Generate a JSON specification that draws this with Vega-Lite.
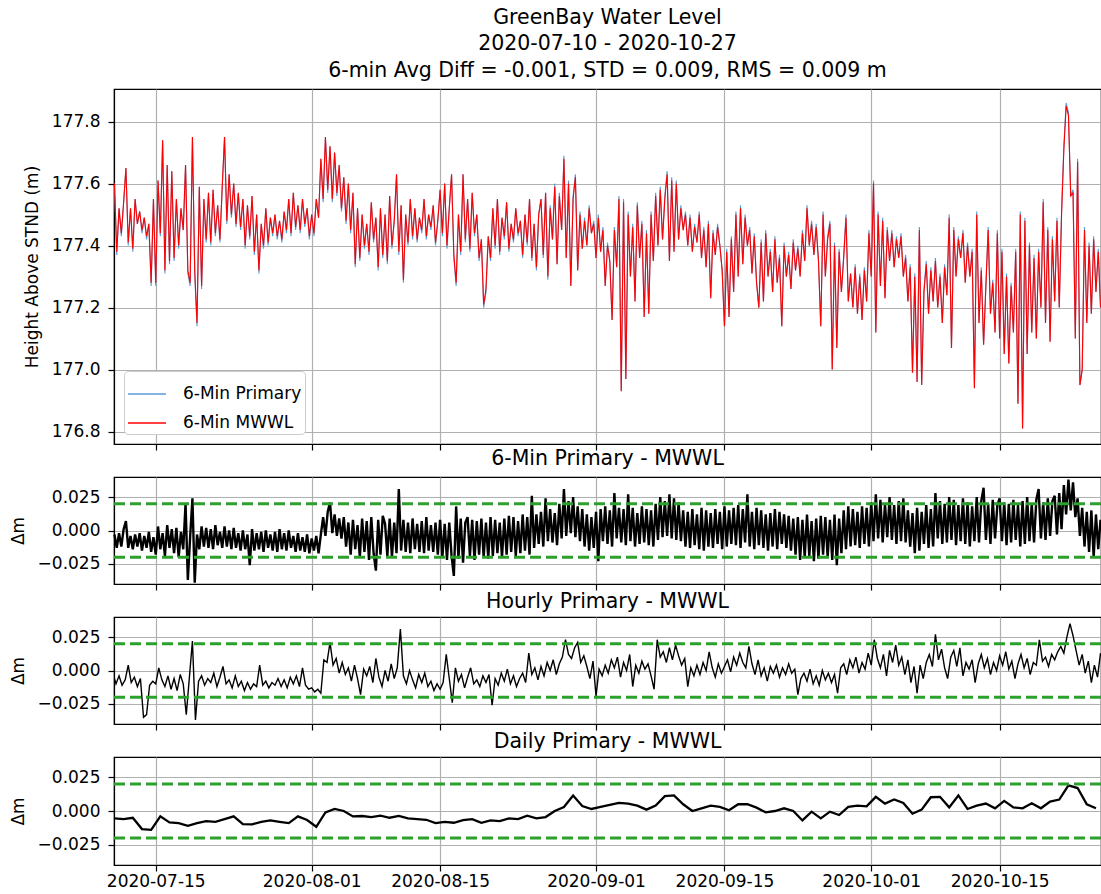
{
"$schema": "https://vega.github.io/schema/vega-lite/v6.json",
"background": "white",
"padding": {"left": 8, "top": 6, "right": 1, "bottom": 0},
"bounds": "flush",
"spacing": 33,
"resolve": {"scale": {"color": "independent"}, "legend": {"color": "independent"}},
"config": {
  "font": "DejaVu Sans",
  "view": {"stroke": "black", "strokeWidth": 1.2},
  "axis": {"labelFont": "DejaVu Sans", "titleFont": "DejaVu Sans", "labelFontSize": 17, "titleFontSize": 17, "titleFontWeight": "normal", "labelColor": "black", "titleColor": "black", "tickColor": "black", "tickSize": 6, "tickWidth": 1.2, "domainColor": "black", "domainWidth": 1.2, "labelPadding": 8, "titlePadding": 10, "gridColor": "#b0b0b0", "gridWidth": 1.2},
  "axisX": {"labelPadding": 2},
  "title": {"font": "DejaVu Sans", "fontSize": 20.5, "fontWeight": "normal", "color": "black"},
  "legend": {"labelFont": "DejaVu Sans"}
},
"datasets": {
"wl": [
{"t":0.5,"p":177.6,"m":177.6},{"t":0.75,"p":177.37,"m":177.38},
{"t":1,"p":177.52,"m":177.52},{"t":1.25,"p":177.43,"m":177.44},{"t":1.5,"p":177.54,"m":177.54},{"t":1.75,"p":177.65,"m":177.65},
{"t":2,"p":177.4,"m":177.41},{"t":2.25,"p":177.52,"m":177.52},{"t":2.5,"p":177.38,"m":177.39},{"t":2.75,"p":177.55,"m":177.55},
{"t":3,"p":177.47,"m":177.47},{"t":3.25,"p":177.51,"m":177.51},{"t":3.5,"p":177.44,"m":177.45},{"t":3.75,"p":177.49,"m":177.49},
{"t":4,"p":177.42,"m":177.43},{"t":4.25,"p":177.47,"m":177.47},{"t":4.5,"p":177.27,"m":177.28},{"t":4.75,"p":177.55,"m":177.55},
{"t":5,"p":177.27,"m":177.28},{"t":5.25,"p":177.61,"m":177.61},{"t":5.5,"p":177.43,"m":177.44},{"t":5.75,"p":177.74,"m":177.74},
{"t":6,"p":177.31,"m":177.32},{"t":6.25,"p":177.66,"m":177.66},{"t":6.5,"p":177.34,"m":177.35},{"t":6.75,"p":177.64,"m":177.64},
{"t":7,"p":177.35,"m":177.36},{"t":7.25,"p":177.55,"m":177.55},{"t":7.5,"p":177.39,"m":177.4},{"t":7.75,"p":177.52,"m":177.52},
{"t":8,"p":177.45,"m":177.45},{"t":8.25,"p":177.66,"m":177.66},{"t":8.5,"p":177.31,"m":177.32},{"t":8.75,"p":177.27,"m":177.28},
{"t":9,"p":177.75,"m":177.75},{"t":9.25,"p":177.31,"m":177.32},{"t":9.5,"p":177.14,"m":177.15},{"t":9.75,"p":177.59,"m":177.59},
{"t":10,"p":177.26,"m":177.27},{"t":10.25,"p":177.55,"m":177.55},{"t":10.5,"p":177.41,"m":177.42},{"t":10.75,"p":177.57,"m":177.57},
{"t":11,"p":177.4,"m":177.41},{"t":11.25,"p":177.58,"m":177.58},{"t":11.5,"p":177.43,"m":177.44},{"t":11.75,"p":177.53,"m":177.53},
{"t":12,"p":177.41,"m":177.42},{"t":12.25,"p":177.59,"m":177.59},{"t":12.5,"p":177.75,"m":177.75},{"t":12.75,"p":177.47,"m":177.48},
{"t":13,"p":177.63,"m":177.63},{"t":13.25,"p":177.49,"m":177.5},{"t":13.5,"p":177.6,"m":177.6},{"t":13.75,"p":177.46,"m":177.47},
{"t":14,"p":177.57,"m":177.57},{"t":14.25,"p":177.45,"m":177.46},{"t":14.5,"p":177.55,"m":177.55},{"t":14.75,"p":177.39,"m":177.4},
{"t":15,"p":177.53,"m":177.53},{"t":15.25,"p":177.42,"m":177.43},{"t":15.5,"p":177.56,"m":177.56},{"t":15.75,"p":177.37,"m":177.38},
{"t":16,"p":177.5,"m":177.5},{"t":16.25,"p":177.31,"m":177.32},{"t":16.5,"p":177.47,"m":177.47},{"t":16.75,"p":177.39,"m":177.4},
{"t":17,"p":177.52,"m":177.52},{"t":17.25,"p":177.4,"m":177.41},{"t":17.5,"p":177.49,"m":177.49},{"t":17.75,"p":177.43,"m":177.44},
{"t":18,"p":177.5,"m":177.5},{"t":18.25,"p":177.42,"m":177.43},{"t":18.5,"p":177.48,"m":177.48},{"t":18.75,"p":177.41,"m":177.42},
{"t":19,"p":177.51,"m":177.51},{"t":19.25,"p":177.44,"m":177.45},{"t":19.5,"p":177.55,"m":177.55},{"t":19.75,"p":177.43,"m":177.44},
{"t":20,"p":177.57,"m":177.57},{"t":20.25,"p":177.45,"m":177.46},{"t":20.5,"p":177.53,"m":177.53},{"t":20.75,"p":177.44,"m":177.45},
{"t":21,"p":177.55,"m":177.55},{"t":21.25,"p":177.46,"m":177.47},{"t":21.5,"p":177.52,"m":177.52},{"t":21.75,"p":177.42,"m":177.43},
{"t":22,"p":177.5,"m":177.5},{"t":22.25,"p":177.43,"m":177.44},{"t":22.5,"p":177.55,"m":177.55},{"t":22.75,"p":177.49,"m":177.49},
{"t":23,"p":177.68,"m":177.68},{"t":23.25,"p":177.54,"m":177.55},{"t":23.5,"p":177.75,"m":177.75},{"t":23.75,"p":177.57,"m":177.58},
{"t":24,"p":177.72,"m":177.72},{"t":24.25,"p":177.54,"m":177.55},{"t":24.5,"p":177.7,"m":177.7},{"t":24.75,"p":177.56,"m":177.57},
{"t":25,"p":177.66,"m":177.66},{"t":25.25,"p":177.51,"m":177.52},{"t":25.5,"p":177.62,"m":177.62},{"t":25.75,"p":177.47,"m":177.48},
{"t":26,"p":177.6,"m":177.6},{"t":26.25,"p":177.44,"m":177.45},{"t":26.5,"p":177.57,"m":177.57},{"t":26.75,"p":177.33,"m":177.34},
{"t":27,"p":177.52,"m":177.52},{"t":27.25,"p":177.35,"m":177.36},{"t":27.5,"p":177.5,"m":177.5},{"t":27.75,"p":177.39,"m":177.4},
{"t":28,"p":177.47,"m":177.47},{"t":28.25,"p":177.37,"m":177.38},{"t":28.5,"p":177.54,"m":177.54},{"t":28.75,"p":177.41,"m":177.42},
{"t":29,"p":177.49,"m":177.49},{"t":29.25,"p":177.32,"m":177.33},{"t":29.5,"p":177.52,"m":177.52},{"t":29.75,"p":177.36,"m":177.37},
{"t":30,"p":177.5,"m":177.5},{"t":30.25,"p":177.34,"m":177.35},{"t":30.5,"p":177.56,"m":177.56},{"t":30.75,"p":177.39,"m":177.4},
{"t":31,"p":177.48,"m":177.48},{"t":31.25,"p":177.63,"m":177.63},{"t":31.5,"p":177.37,"m":177.38},{"t":31.75,"p":177.53,"m":177.53},
{"t":32,"p":177.28,"m":177.29},{"t":32.25,"p":177.5,"m":177.5},{"t":32.5,"p":177.4,"m":177.41},{"t":32.75,"p":177.55,"m":177.55},
{"t":33,"p":177.42,"m":177.43},{"t":33.25,"p":177.52,"m":177.52},{"t":33.5,"p":177.41,"m":177.42},{"t":33.75,"p":177.49,"m":177.49},
{"t":34,"p":177.44,"m":177.45},{"t":34.25,"p":177.55,"m":177.55},{"t":34.5,"p":177.42,"m":177.43},{"t":34.75,"p":177.5,"m":177.5},
{"t":35,"p":177.45,"m":177.46},{"t":35.25,"p":177.53,"m":177.53},{"t":35.5,"p":177.4,"m":177.41},{"t":35.75,"p":177.48,"m":177.48},
{"t":36,"p":177.58,"m":177.58},{"t":36.25,"p":177.43,"m":177.44},{"t":36.5,"p":177.6,"m":177.6},{"t":36.75,"p":177.39,"m":177.4},
{"t":37,"p":177.52,"m":177.52},{"t":37.25,"p":177.63,"m":177.63},{"t":37.5,"p":177.36,"m":177.37},{"t":37.75,"p":177.27,"m":177.28},
{"t":38,"p":177.5,"m":177.5},{"t":38.25,"p":177.37,"m":177.38},{"t":38.5,"p":177.63,"m":177.63},{"t":38.75,"p":177.41,"m":177.42},
{"t":39,"p":177.55,"m":177.55},{"t":39.25,"p":177.38,"m":177.39},{"t":39.5,"p":177.57,"m":177.57},{"t":39.75,"p":177.43,"m":177.44},
{"t":40,"p":177.5,"m":177.5},{"t":40.25,"p":177.35,"m":177.36},{"t":40.5,"p":177.42,"m":177.42},{"t":40.75,"p":177.2,"m":177.21},
{"t":41,"p":177.25,"m":177.26},{"t":41.25,"p":177.43,"m":177.43},{"t":41.5,"p":177.35,"m":177.36},{"t":41.75,"p":177.52,"m":177.52},
{"t":42,"p":177.39,"m":177.4},{"t":42.25,"p":177.55,"m":177.55},{"t":42.5,"p":177.37,"m":177.38},{"t":42.75,"p":177.49,"m":177.49},
{"t":43,"p":177.42,"m":177.43},{"t":43.25,"p":177.54,"m":177.54},{"t":43.5,"p":177.38,"m":177.39},{"t":43.75,"p":177.47,"m":177.47},
{"t":44,"p":177.41,"m":177.42},{"t":44.25,"p":177.52,"m":177.52},{"t":44.5,"p":177.43,"m":177.44},{"t":44.75,"p":177.48,"m":177.48},
{"t":45,"p":177.36,"m":177.37},{"t":45.25,"p":177.5,"m":177.5},{"t":45.5,"p":177.4,"m":177.41},{"t":45.75,"p":177.55,"m":177.55},
{"t":46,"p":177.35,"m":177.36},{"t":46.25,"p":177.47,"m":177.47},{"t":46.5,"p":177.32,"m":177.33},{"t":46.75,"p":177.5,"m":177.5},
{"t":47,"p":177.55,"m":177.55},{"t":47.25,"p":177.36,"m":177.37},{"t":47.5,"p":177.57,"m":177.57},{"t":47.75,"p":177.29,"m":177.3},
{"t":48,"p":177.53,"m":177.52},{"t":48.25,"p":177.42,"m":177.42},{"t":48.5,"p":177.6,"m":177.59},{"t":48.75,"p":177.34,"m":177.34},
{"t":49,"p":177.57,"m":177.56},{"t":49.25,"p":177.45,"m":177.45},{"t":49.5,"p":177.69,"m":177.68},{"t":49.75,"p":177.36,"m":177.36},
{"t":50,"p":177.61,"m":177.6},{"t":50.25,"p":177.27,"m":177.27},{"t":50.5,"p":177.56,"m":177.55},{"t":50.75,"p":177.63,"m":177.62},
{"t":51,"p":177.32,"m":177.32},{"t":51.25,"p":177.51,"m":177.5},{"t":51.5,"p":177.39,"m":177.39},{"t":51.75,"p":177.49,"m":177.48},
{"t":52,"p":177.4,"m":177.4},{"t":52.25,"p":177.53,"m":177.52},{"t":52.5,"p":177.44,"m":177.44},{"t":52.75,"p":177.48,"m":177.47},
{"t":53,"p":177.36,"m":177.36},{"t":53.25,"p":177.5,"m":177.49},{"t":53.5,"p":177.38,"m":177.38},{"t":53.75,"p":177.46,"m":177.45},
{"t":54,"p":177.27,"m":177.27},{"t":54.25,"p":177.41,"m":177.4},{"t":54.5,"p":177.35,"m":177.35},{"t":54.75,"p":177.16,"m":177.16},
{"t":55,"p":177.46,"m":177.45},{"t":55.25,"p":177.33,"m":177.33},{"t":55.5,"p":177.56,"m":177.55},{"t":55.75,"p":176.93,"m":176.93},
{"t":56,"p":177.55,"m":177.54},{"t":56.25,"p":176.97,"m":176.97},{"t":56.5,"p":177.51,"m":177.5},{"t":56.75,"p":177.3,"m":177.3},
{"t":57,"p":177.47,"m":177.46},{"t":57.25,"p":177.22,"m":177.22},{"t":57.5,"p":177.54,"m":177.53},{"t":57.75,"p":177.36,"m":177.36},
{"t":58,"p":177.48,"m":177.47},{"t":58.25,"p":177.17,"m":177.17},{"t":58.5,"p":177.45,"m":177.44},{"t":58.75,"p":177.18,"m":177.18},
{"t":59,"p":177.51,"m":177.5},{"t":59.25,"p":177.35,"m":177.35},{"t":59.5,"p":177.57,"m":177.56},{"t":59.75,"p":177.4,"m":177.4},
{"t":60,"p":177.59,"m":177.58},{"t":60.25,"p":177.42,"m":177.42},{"t":60.5,"p":177.56,"m":177.55},{"t":60.75,"p":177.64,"m":177.63},
{"t":61,"p":177.35,"m":177.35},{"t":61.25,"p":177.62,"m":177.61},{"t":61.5,"p":177.38,"m":177.38},{"t":61.75,"p":177.61,"m":177.6},
{"t":62,"p":177.42,"m":177.42},{"t":62.25,"p":177.53,"m":177.52},{"t":62.5,"p":177.45,"m":177.45},{"t":62.75,"p":177.51,"m":177.5},
{"t":63,"p":177.4,"m":177.4},{"t":63.25,"p":177.5,"m":177.49},{"t":63.5,"p":177.38,"m":177.38},{"t":63.75,"p":177.47,"m":177.46},
{"t":64,"p":177.41,"m":177.41},{"t":64.25,"p":177.51,"m":177.5},{"t":64.5,"p":177.36,"m":177.36},{"t":64.75,"p":177.46,"m":177.45},
{"t":65,"p":177.33,"m":177.33},{"t":65.25,"p":177.48,"m":177.47},{"t":65.5,"p":177.23,"m":177.23},{"t":65.75,"p":177.45,"m":177.44},
{"t":66,"p":177.37,"m":177.37},{"t":66.25,"p":177.47,"m":177.46},{"t":66.5,"p":177.4,"m":177.4},{"t":66.75,"p":177.32,"m":177.32},
{"t":67,"p":177.14,"m":177.14},{"t":67.25,"p":177.39,"m":177.38},{"t":67.5,"p":177.17,"m":177.17},{"t":67.75,"p":177.43,"m":177.42},
{"t":68,"p":177.25,"m":177.25},{"t":68.25,"p":177.51,"m":177.5},{"t":68.5,"p":177.3,"m":177.3},{"t":68.75,"p":177.53,"m":177.52},
{"t":69,"p":177.34,"m":177.34},{"t":69.25,"p":177.5,"m":177.49},{"t":69.5,"p":177.4,"m":177.4},{"t":69.75,"p":177.46,"m":177.45},
{"t":70,"p":177.31,"m":177.31},{"t":70.25,"p":177.44,"m":177.43},{"t":70.5,"p":177.28,"m":177.28},{"t":70.75,"p":177.2,"m":177.2},
{"t":71,"p":177.42,"m":177.41},{"t":71.25,"p":177.22,"m":177.22},{"t":71.5,"p":177.45,"m":177.44},{"t":71.75,"p":177.3,"m":177.3},
{"t":72,"p":177.39,"m":177.38},{"t":72.25,"p":177.25,"m":177.25},{"t":72.5,"p":177.43,"m":177.42},{"t":72.75,"p":177.28,"m":177.28},
{"t":73,"p":177.37,"m":177.36},{"t":73.25,"p":177.14,"m":177.14},{"t":73.5,"p":177.41,"m":177.4},{"t":73.75,"p":177.3,"m":177.3},
{"t":74,"p":177.38,"m":177.37},{"t":74.25,"p":177.26,"m":177.26},{"t":74.5,"p":177.42,"m":177.41},{"t":74.75,"p":177.32,"m":177.32},
{"t":75,"p":177.4,"m":177.39},{"t":75.25,"p":177.3,"m":177.3},{"t":75.5,"p":177.45,"m":177.44},{"t":75.75,"p":177.35,"m":177.35},
{"t":76,"p":177.53,"m":177.52},{"t":76.25,"p":177.4,"m":177.4},{"t":76.5,"p":177.48,"m":177.47},{"t":76.75,"p":177.37,"m":177.37},
{"t":77,"p":177.47,"m":177.46},{"t":77.25,"p":177.35,"m":177.35},{"t":77.5,"p":177.14,"m":177.14},{"t":77.75,"p":177.51,"m":177.5},
{"t":78,"p":177.3,"m":177.3},{"t":78.25,"p":177.43,"m":177.42},{"t":78.5,"p":177.48,"m":177.47},{"t":78.75,"p":177,"m":177},
{"t":79,"p":177.41,"m":177.4},{"t":79.25,"p":177.07,"m":177.07},{"t":79.5,"p":177.39,"m":177.38},{"t":79.75,"p":177.25,"m":177.25},
{"t":80,"p":177.37,"m":177.36},{"t":80.25,"p":177.5,"m":177.49},{"t":80.5,"p":177.22,"m":177.22},{"t":80.75,"p":177.31,"m":177.31},
{"t":81,"p":177.2,"m":177.2},{"t":81.25,"p":177.34,"m":177.33},{"t":81.5,"p":177.18,"m":177.18},{"t":81.75,"p":177.31,"m":177.3},
{"t":82,"p":177.16,"m":177.16},{"t":82.25,"p":177.33,"m":177.32},{"t":82.5,"p":177.22,"m":177.22},{"t":82.75,"p":177.45,"m":177.44},
{"t":83,"p":177.3,"m":177.3},{"t":83.25,"p":177.61,"m":177.6},{"t":83.5,"p":177.12,"m":177.12},{"t":83.75,"p":177.51,"m":177.5},
{"t":84,"p":177.27,"m":177.27},{"t":84.25,"p":177.49,"m":177.48},{"t":84.5,"p":177.23,"m":177.23},{"t":84.75,"p":177.46,"m":177.45},
{"t":85,"p":177.35,"m":177.35},{"t":85.25,"p":177.45,"m":177.44},{"t":85.5,"p":177.33,"m":177.33},{"t":85.75,"p":177.43,"m":177.42},
{"t":86,"p":177.36,"m":177.36},{"t":86.25,"p":177.44,"m":177.43},{"t":86.5,"p":177.3,"m":177.3},{"t":86.75,"p":177.37,"m":177.36},
{"t":87,"p":177.22,"m":177.22},{"t":87.25,"p":177.34,"m":177.33},{"t":87.5,"p":176.99,"m":176.99},{"t":87.75,"p":177.31,"m":177.3},
{"t":88,"p":176.96,"m":176.96},{"t":88.25,"p":177.46,"m":177.45},{"t":88.5,"p":176.95,"m":176.95},{"t":88.75,"p":177.26,"m":177.25},
{"t":89,"p":177.35,"m":177.34},{"t":89.25,"p":177.18,"m":177.18},{"t":89.5,"p":177.33,"m":177.32},{"t":89.75,"p":177.22,"m":177.22},
{"t":90,"p":177.36,"m":177.35},{"t":90.25,"p":177.2,"m":177.2},{"t":90.5,"p":177.31,"m":177.3},{"t":90.75,"p":177.15,"m":177.15},
{"t":91,"p":177.34,"m":177.33},{"t":91.25,"p":177.24,"m":177.24},{"t":91.5,"p":177.5,"m":177.49},{"t":91.75,"p":177.07,"m":177.07},
{"t":92,"p":177.46,"m":177.45},{"t":92.25,"p":177.3,"m":177.3},{"t":92.5,"p":177.43,"m":177.42},{"t":92.75,"p":177.36,"m":177.36},
{"t":93,"p":177.45,"m":177.44},{"t":93.25,"p":177.28,"m":177.28},{"t":93.5,"p":177.41,"m":177.4},{"t":93.75,"p":177.3,"m":177.3},
{"t":94,"p":177.39,"m":177.38},{"t":94.25,"p":176.94,"m":176.94},{"t":94.5,"p":177.51,"m":177.5},{"t":94.75,"p":177.15,"m":177.15},
{"t":95,"p":177.33,"m":177.32},{"t":95.25,"p":177.08,"m":177.08},{"t":95.5,"p":177.27,"m":177.27},{"t":95.75,"p":177.46,"m":177.45},
{"t":96,"p":177.18,"m":177.18},{"t":96.25,"p":177.29,"m":177.28},{"t":96.5,"p":177.12,"m":177.12},{"t":96.75,"p":177.45,"m":177.44},
{"t":97,"p":177.1,"m":177.1},{"t":97.25,"p":177.39,"m":177.38},{"t":97.5,"p":177.05,"m":177.05},{"t":97.75,"p":177.31,"m":177.3},
{"t":98,"p":177.02,"m":177.02},{"t":98.25,"p":177.28,"m":177.27},{"t":98.5,"p":177.12,"m":177.12},{"t":98.75,"p":177.39,"m":177.38},
{"t":99,"p":176.89,"m":176.89},{"t":99.25,"p":177.51,"m":177.5},{"t":99.5,"p":176.81,"m":176.81},{"t":99.75,"p":177.49,"m":177.48},
{"t":100,"p":177.05,"m":177.05},{"t":100.25,"p":177.41,"m":177.4},{"t":100.5,"p":177.12,"m":177.12},{"t":100.75,"p":177.37,"m":177.36},
{"t":101,"p":177.1,"m":177.1},{"t":101.25,"p":177.39,"m":177.38},{"t":101.5,"p":177.2,"m":177.2},{"t":101.75,"p":177.55,"m":177.54},
{"t":102,"p":177.15,"m":177.15},{"t":102.25,"p":177.46,"m":177.45},{"t":102.5,"p":177.09,"m":177.09},{"t":102.75,"p":177.43,"m":177.42},
{"t":103,"p":177.22,"m":177.22},{"t":103.25,"p":177.49,"m":177.48},{"t":103.5,"p":177.2,"m":177.2},{"t":103.75,"p":177.51,"m":177.5},
{"t":104,"p":177.72,"m":177.71},{"t":104.25,"p":177.86,"m":177.85},{"t":104.5,"p":177.83,"m":177.82},{"t":104.75,"p":177.56,"m":177.56},
{"t":105,"p":177.58,"m":177.57},{"t":105.25,"p":177.1,"m":177.1},{"t":105.5,"p":177.68,"m":177.67},{"t":105.75,"p":176.95,"m":176.95},
{"t":106,"p":177,"m":177},{"t":106.25,"p":177.46,"m":177.45},{"t":106.5,"p":177.15,"m":177.15},{"t":106.75,"p":177.41,"m":177.4},
{"t":107,"p":177.18,"m":177.18},{"t":107.25,"p":177.43,"m":177.42},{"t":107.5,"p":177.25,"m":177.25},{"t":107.75,"p":177.39,"m":177.38},
{"t":108,"p":177.2,"m":177.2}
],
"d6": [
{"t":0.5,"d":-0.003},{"t":0.75,"d":-0.013},
{"t":1,"d":-0.002},{"t":1.25,"d":-0.012},{"t":1.5,"d":0.001},{"t":1.75,"d":0.007},
{"t":2,"d":-0.013},{"t":2.25,"d":-0.004},{"t":2.5,"d":-0.014},{"t":2.75,"d":-0.003},
{"t":3,"d":-0.012},{"t":3.25,"d":-0.002},{"t":3.5,"d":-0.015},{"t":3.75,"d":-0.004},
{"t":4,"d":-0.013},{"t":4.25,"d":-0.001},{"t":4.5,"d":-0.016},{"t":4.75,"d":-0.005},
{"t":5,"d":-0.018},{"t":5.25,"d":0.003},{"t":5.5,"d":-0.014},{"t":5.75,"d":-0.002},
{"t":6,"d":-0.019},{"t":6.25,"d":0.004},{"t":6.5,"d":-0.013},{"t":6.75,"d":0.001},
{"t":7,"d":-0.017},{"t":7.25,"d":0.002},{"t":7.5,"d":-0.02},{"t":7.75,"d":-0.001},
{"t":8,"d":-0.014},{"t":8.25,"d":0.02},{"t":8.5,"d":-0.037},{"t":8.75,"d":-0.005},
{"t":9,"d":0.024},{"t":9.25,"d":-0.039},{"t":9.5,"d":-0.003},{"t":9.75,"d":-0.014},
{"t":10,"d":0.003},{"t":10.25,"d":-0.012},{"t":10.5,"d":0.002},{"t":10.75,"d":-0.013},
{"t":11,"d":0.001},{"t":11.25,"d":-0.014},{"t":11.5,"d":0.004},{"t":11.75,"d":-0.011},
{"t":12,"d":-0.001},{"t":12.25,"d":-0.013},{"t":12.5,"d":0.003},{"t":12.75,"d":-0.012},
{"t":13,"d":0},{"t":13.25,"d":-0.014},{"t":13.5,"d":0.002},{"t":13.75,"d":-0.013},
{"t":14,"d":-0.002},{"t":14.25,"d":-0.015},{"t":14.5,"d":0},{"t":14.75,"d":-0.014},
{"t":15,"d":-0.003},{"t":15.25,"d":-0.026},{"t":15.5,"d":0.001},{"t":15.75,"d":-0.015},
{"t":16,"d":-0.002},{"t":16.25,"d":-0.014},{"t":16.5,"d":-0.001},{"t":16.75,"d":-0.016},
{"t":17,"d":0},{"t":17.25,"d":-0.013},{"t":17.5,"d":-0.003},{"t":17.75,"d":-0.015},
{"t":18,"d":-0.001},{"t":18.25,"d":-0.016},{"t":18.5,"d":0.001},{"t":18.75,"d":-0.014},
{"t":19,"d":-0.002},{"t":19.25,"d":-0.015},{"t":19.5,"d":0},{"t":19.75,"d":-0.013},
{"t":20,"d":-0.004},{"t":20.25,"d":-0.016},{"t":20.5,"d":-0.002},{"t":20.75,"d":-0.015},
{"t":21,"d":-0.005},{"t":21.25,"d":-0.016},{"t":21.5,"d":-0.003},{"t":21.75,"d":-0.017},
{"t":22,"d":-0.006},{"t":22.25,"d":-0.015},{"t":22.5,"d":-0.004},{"t":22.75,"d":-0.017},
{"t":23,"d":-0.003},{"t":23.25,"d":0.01},{"t":23.5,"d":-0.004},{"t":23.75,"d":0.014},
{"t":24,"d":0.021},{"t":24.25,"d":-0.002},{"t":24.5,"d":0.012},{"t":24.75,"d":-0.004},
{"t":25,"d":0.009},{"t":25.25,"d":-0.006},{"t":25.5,"d":0.01},{"t":25.75,"d":-0.012},
{"t":26,"d":0.006},{"t":26.25,"d":-0.018},{"t":26.5,"d":0.008},{"t":26.75,"d":-0.014},
{"t":27,"d":0.004},{"t":27.25,"d":-0.02},{"t":27.5,"d":0.009},{"t":27.75,"d":-0.016},
{"t":28,"d":0.007},{"t":28.25,"d":-0.022},{"t":28.5,"d":0.01},{"t":28.75,"d":-0.017},
{"t":29,"d":-0.03},{"t":29.25,"d":0.008},{"t":29.5,"d":-0.018},{"t":29.75,"d":0.011},
{"t":30,"d":0.005},{"t":30.25,"d":-0.019},{"t":30.5,"d":0.009},{"t":30.75,"d":-0.02},
{"t":31,"d":0.006},{"t":31.25,"d":-0.017},{"t":31.5,"d":0.031},{"t":31.75,"d":-0.015},
{"t":32,"d":0.008},{"t":32.25,"d":-0.016},{"t":32.5,"d":0.006},{"t":32.75,"d":-0.017},
{"t":33,"d":0.009},{"t":33.25,"d":-0.014},{"t":33.5,"d":0.005},{"t":33.75,"d":-0.016},
{"t":34,"d":0.007},{"t":34.25,"d":-0.017},{"t":34.5,"d":0.01},{"t":34.75,"d":-0.015},
{"t":35,"d":0.004},{"t":35.25,"d":-0.016},{"t":35.5,"d":0.006},{"t":35.75,"d":-0.018},
{"t":36,"d":0.008},{"t":36.25,"d":-0.02},{"t":36.5,"d":0.005},{"t":36.75,"d":-0.022},
{"t":37,"d":0.006},{"t":37.25,"d":-0.019},{"t":37.5,"d":-0.034},{"t":37.75,"d":0.018},
{"t":38,"d":-0.021},{"t":38.25,"d":0.009},{"t":38.5,"d":-0.024},{"t":38.75,"d":0.006},
{"t":39,"d":0.01},{"t":39.25,"d":-0.019},{"t":39.5,"d":0.008},{"t":39.75,"d":-0.022},
{"t":40,"d":0.007},{"t":40.25,"d":-0.018},{"t":40.5,"d":0.009},{"t":40.75,"d":-0.02},
{"t":41,"d":0.006},{"t":41.25,"d":-0.021},{"t":41.5,"d":0.01},{"t":41.75,"d":-0.019},
{"t":42,"d":0.008},{"t":42.25,"d":-0.017},{"t":42.5,"d":0.006},{"t":42.75,"d":-0.02},
{"t":43,"d":0.009},{"t":43.25,"d":-0.018},{"t":43.5,"d":0.011},{"t":43.75,"d":-0.016},
{"t":44,"d":0.01},{"t":44.25,"d":-0.019},{"t":44.5,"d":0.007},{"t":44.75,"d":-0.017},
{"t":45,"d":0.012},{"t":45.25,"d":-0.015},{"t":45.5,"d":0.01},{"t":45.75,"d":-0.018},
{"t":46,"d":0.026},{"t":46.25,"d":-0.013},{"t":46.5,"d":0.012},{"t":46.75,"d":-0.01},
{"t":47,"d":0.014},{"t":47.25,"d":-0.012},{"t":47.5,"d":0.024},{"t":47.75,"d":-0.008},
{"t":48,"d":0.016},{"t":48.25,"d":-0.009},{"t":48.5,"d":0.013},{"t":48.75,"d":-0.011},
{"t":49,"d":0.02},{"t":49.25,"d":-0.006},{"t":49.5,"d":0.031},{"t":49.75,"d":-0.004},
{"t":50,"d":0.022},{"t":50.25,"d":-0.002},{"t":50.5,"d":0.025},{"t":50.75,"d":-0.005},
{"t":51,"d":0.018},{"t":51.25,"d":-0.008},{"t":51.5,"d":0.016},{"t":51.75,"d":-0.012},
{"t":52,"d":0.012},{"t":52.25,"d":-0.015},{"t":52.5,"d":0.01},{"t":52.75,"d":-0.013},
{"t":53,"d":0.014},{"t":53.25,"d":-0.023},{"t":53.5,"d":0.016},{"t":53.75,"d":-0.008},
{"t":54,"d":0.018},{"t":54.25,"d":-0.01},{"t":54.5,"d":0.015},{"t":54.75,"d":-0.012},
{"t":55,"d":0.028},{"t":55.25,"d":-0.006},{"t":55.5,"d":0.017},{"t":55.75,"d":-0.009},
{"t":56,"d":0.016},{"t":56.25,"d":-0.011},{"t":56.5,"d":0.027},{"t":56.75,"d":-0.008},
{"t":57,"d":0.017},{"t":57.25,"d":-0.012},{"t":57.5,"d":0.013},{"t":57.75,"d":-0.01},
{"t":58,"d":0.018},{"t":58.25,"d":-0.009},{"t":58.5,"d":0.016},{"t":58.75,"d":-0.011},
{"t":59,"d":0.015},{"t":59.25,"d":-0.012},{"t":59.5,"d":0.02},{"t":59.75,"d":-0.007},
{"t":60,"d":0.025},{"t":60.25,"d":-0.005},{"t":60.5,"d":0.022},{"t":60.75,"d":-0.004},
{"t":61,"d":0.027},{"t":61.25,"d":-0.006},{"t":61.5,"d":0.024},{"t":61.75,"d":-0.007},
{"t":62,"d":0.021},{"t":62.25,"d":-0.008},{"t":62.5,"d":0.015},{"t":62.75,"d":-0.012},
{"t":63,"d":0.014},{"t":63.25,"d":-0.013},{"t":63.5,"d":0.016},{"t":63.75,"d":-0.011},
{"t":64,"d":0.012},{"t":64.25,"d":-0.014},{"t":64.5,"d":0.017},{"t":64.75,"d":-0.015},
{"t":65,"d":0.015},{"t":65.25,"d":-0.012},{"t":65.5,"d":0.013},{"t":65.75,"d":-0.013},
{"t":66,"d":0.016},{"t":66.25,"d":-0.01},{"t":66.5,"d":0.014},{"t":66.75,"d":-0.014},
{"t":67,"d":0.018},{"t":67.25,"d":-0.012},{"t":67.5,"d":0.015},{"t":67.75,"d":-0.01},
{"t":68,"d":0.017},{"t":68.25,"d":-0.011},{"t":68.5,"d":0.019},{"t":68.75,"d":-0.013},
{"t":69,"d":0.016},{"t":69.25,"d":-0.009},{"t":69.5,"d":0.027},{"t":69.75,"d":-0.012},
{"t":70,"d":0.014},{"t":70.25,"d":-0.014},{"t":70.5,"d":0.017},{"t":70.75,"d":-0.011},
{"t":71,"d":0.015},{"t":71.25,"d":-0.013},{"t":71.5,"d":0.012},{"t":71.75,"d":-0.015},
{"t":72,"d":0.013},{"t":72.25,"d":-0.012},{"t":72.5,"d":0.016},{"t":72.75,"d":-0.014},
{"t":73,"d":0.014},{"t":73.25,"d":-0.01},{"t":73.5,"d":0.012},{"t":73.75,"d":-0.013},
{"t":74,"d":0.011},{"t":74.25,"d":-0.015},{"t":74.5,"d":0.009},{"t":74.75,"d":-0.018},
{"t":75,"d":0.01},{"t":75.25,"d":-0.022},{"t":75.5,"d":0.008},{"t":75.75,"d":-0.02},
{"t":76,"d":0.012},{"t":76.25,"d":-0.019},{"t":76.5,"d":0.007},{"t":76.75,"d":-0.023},
{"t":77,"d":0.009},{"t":77.25,"d":-0.021},{"t":77.5,"d":0.011},{"t":77.75,"d":-0.018},
{"t":78,"d":0.01},{"t":78.25,"d":-0.02},{"t":78.5,"d":0.008},{"t":78.75,"d":-0.022},
{"t":79,"d":0.012},{"t":79.25,"d":-0.026},{"t":79.5,"d":0.009},{"t":79.75,"d":-0.017},
{"t":80,"d":0.015},{"t":80.25,"d":-0.014},{"t":80.5,"d":0.018},{"t":80.75,"d":-0.012},
{"t":81,"d":0.016},{"t":81.25,"d":-0.011},{"t":81.5,"d":0.014},{"t":81.75,"d":-0.013},
{"t":82,"d":0.018},{"t":82.25,"d":-0.01},{"t":82.5,"d":0.017},{"t":82.75,"d":-0.012},
{"t":83,"d":0.021},{"t":83.25,"d":-0.008},{"t":83.5,"d":0.027},{"t":83.75,"d":-0.006},
{"t":84,"d":0.023},{"t":84.25,"d":-0.009},{"t":84.5,"d":0.02},{"t":84.75,"d":-0.005},
{"t":85,"d":0.025},{"t":85.25,"d":-0.007},{"t":85.5,"d":0.019},{"t":85.75,"d":-0.01},
{"t":86,"d":0.022},{"t":86.25,"d":-0.008},{"t":86.5,"d":0.024},{"t":86.75,"d":-0.009},
{"t":87,"d":0.015},{"t":87.25,"d":-0.012},{"t":87.5,"d":0.013},{"t":87.75,"d":-0.017},
{"t":88,"d":0.017},{"t":88.25,"d":-0.015},{"t":88.5,"d":0.014},{"t":88.75,"d":-0.01},
{"t":89,"d":0.019},{"t":89.25,"d":-0.013},{"t":89.5,"d":0.016},{"t":89.75,"d":-0.012},
{"t":90,"d":0.028},{"t":90.25,"d":-0.006},{"t":90.5,"d":0.022},{"t":90.75,"d":-0.01},
{"t":91,"d":0.02},{"t":91.25,"d":-0.009},{"t":91.5,"d":0.025},{"t":91.75,"d":-0.007},
{"t":92,"d":0.023},{"t":92.25,"d":-0.011},{"t":92.5,"d":0.019},{"t":92.75,"d":-0.008},
{"t":93,"d":0.024},{"t":93.25,"d":-0.01},{"t":93.5,"d":0.021},{"t":93.75,"d":-0.012},
{"t":94,"d":0.018},{"t":94.25,"d":-0.008},{"t":94.5,"d":0.025},{"t":94.75,"d":-0.009},
{"t":95,"d":0.022},{"t":95.25,"d":0.032},{"t":95.5,"d":-0.007},{"t":95.75,"d":0.02},
{"t":96,"d":-0.01},{"t":96.25,"d":0.023},{"t":96.5,"d":-0.006},{"t":96.75,"d":0.019},
{"t":97,"d":0.024},{"t":97.25,"d":-0.008},{"t":97.5,"d":0.021},{"t":97.75,"d":-0.011},
{"t":98,"d":0.02},{"t":98.25,"d":-0.009},{"t":98.5,"d":0.023},{"t":98.75,"d":-0.007},
{"t":99,"d":0.019},{"t":99.25,"d":-0.012},{"t":99.5,"d":0.022},{"t":99.75,"d":-0.01},
{"t":100,"d":0.025},{"t":100.25,"d":-0.008},{"t":100.5,"d":0.02},{"t":100.75,"d":-0.009},
{"t":101,"d":0.023},{"t":101.25,"d":0.031},{"t":101.5,"d":-0.006},{"t":101.75,"d":0.021},
{"t":102,"d":-0.007},{"t":102.25,"d":0.024},{"t":102.5,"d":-0.004},{"t":102.75,"d":0.022},
{"t":103,"d":0.026},{"t":103.25,"d":-0.003},{"t":103.5,"d":0.028},{"t":103.75,"d":0.001},
{"t":104,"d":0.034},{"t":104.25,"d":0.012},{"t":104.5,"d":0.038},{"t":104.75,"d":0.015},
{"t":105,"d":0.036},{"t":105.25,"d":0.01},{"t":105.5,"d":0.024},{"t":105.75,"d":-0.004},
{"t":106,"d":0.017},{"t":106.25,"d":-0.012},{"t":106.5,"d":0.014},{"t":106.75,"d":-0.016},
{"t":107,"d":0.015},{"t":107.25,"d":-0.02},{"t":107.5,"d":0.012},{"t":107.75,"d":-0.014},
{"t":108,"d":0.008}
],
"hr": [
{"t":0.5,"d":-0.006},{"t":0.67,"d":-0.01},
{"t":1,"d":-0.004},{"t":1.33,"d":-0.011},{"t":1.67,"d":-0.007},
{"t":2,"d":0.004},{"t":2.33,"d":-0.009},{"t":2.67,"d":-0.005},
{"t":3,"d":-0.012},{"t":3.33,"d":-0.006},{"t":3.67,"d":-0.035},
{"t":4,"d":-0.033},{"t":4.33,"d":-0.011},{"t":4.67,"d":-0.008},
{"t":5,"d":-0.01},{"t":5.33,"d":0.002},{"t":5.67,"d":-0.007},
{"t":6,"d":-0.012},{"t":6.33,"d":-0.004},{"t":6.67,"d":-0.014},
{"t":7,"d":-0.006},{"t":7.33,"d":-0.015},{"t":7.67,"d":-0.003},
{"t":8,"d":-0.01},{"t":8.33,"d":-0.033},{"t":8.67,"d":-0.005},
{"t":9,"d":0.022},{"t":9.33,"d":-0.037},{"t":9.67,"d":-0.008},
{"t":10,"d":-0.004},{"t":10.33,"d":-0.011},{"t":10.67,"d":-0.006},
{"t":11,"d":-0.009},{"t":11.33,"d":-0.002},{"t":11.67,"d":-0.012},
{"t":12,"d":-0.005},{"t":12.33,"d":0.003},{"t":12.67,"d":-0.01},
{"t":13,"d":-0.007},{"t":13.33,"d":-0.013},{"t":13.67,"d":-0.004},
{"t":14,"d":-0.012},{"t":14.33,"d":-0.008},{"t":14.67,"d":-0.015},
{"t":15,"d":-0.009},{"t":15.33,"d":-0.014},{"t":15.67,"d":-0.01},
{"t":16,"d":-0.012},{"t":16.33,"d":0.004},{"t":16.67,"d":-0.011},
{"t":17,"d":-0.008},{"t":17.33,"d":-0.013},{"t":17.67,"d":-0.009},
{"t":18,"d":-0.011},{"t":18.33,"d":-0.006},{"t":18.67,"d":-0.012},
{"t":19,"d":-0.007},{"t":19.33,"d":-0.013},{"t":19.67,"d":-0.005},
{"t":20,"d":-0.01},{"t":20.33,"d":-0.004},{"t":20.67,"d":-0.012},
{"t":21,"d":0.002},{"t":21.33,"d":-0.011},{"t":21.67,"d":-0.014},
{"t":22,"d":-0.013},{"t":22.33,"d":-0.016},{"t":22.67,"d":-0.014},
{"t":23,"d":-0.017},{"t":23.33,"d":0.008},{"t":23.67,"d":0.006},
{"t":24,"d":0.021},{"t":24.33,"d":0.004},{"t":24.67,"d":0.009},
{"t":25,"d":-0.002},{"t":25.33,"d":0.006},{"t":25.67,"d":-0.003},
{"t":26,"d":0.002},{"t":26.33,"d":-0.008},{"t":26.67,"d":0.004},
{"t":27,"d":-0.006},{"t":27.33,"d":-0.018},{"t":27.67,"d":0.001},
{"t":28,"d":-0.004},{"t":28.33,"d":0.003},{"t":28.67,"d":-0.009},
{"t":29,"d":0.009},{"t":29.33,"d":-0.005},{"t":29.67,"d":-0.012},
{"t":30,"d":0},{"t":30.33,"d":-0.008},{"t":30.67,"d":0.005},
{"t":31,"d":-0.006},{"t":31.33,"d":0.002},{"t":31.67,"d":0.031},
{"t":32,"d":-0.004},{"t":32.33,"d":-0.01},{"t":32.67,"d":0},
{"t":33,"d":-0.007},{"t":33.33,"d":-0.013},{"t":33.67,"d":-0.003},
{"t":34,"d":-0.009},{"t":34.33,"d":-0.002},{"t":34.67,"d":-0.012},
{"t":35,"d":-0.008},{"t":35.33,"d":-0.015},{"t":35.67,"d":-0.01},
{"t":36,"d":-0.014},{"t":36.33,"d":-0.009},{"t":36.67,"d":0.012},
{"t":37,"d":-0.006},{"t":37.33,"d":-0.024},{"t":37.67,"d":0.002},
{"t":38,"d":-0.008},{"t":38.33,"d":-0.003},{"t":38.67,"d":-0.013},
{"t":39,"d":-0.005},{"t":39.33,"d":0.002},{"t":39.67,"d":-0.01},
{"t":40,"d":-0.007},{"t":40.33,"d":-0.012},{"t":40.67,"d":-0.004},
{"t":41,"d":-0.009},{"t":41.33,"d":-0.003},{"t":41.67,"d":-0.026},
{"t":42,"d":-0.006},{"t":42.33,"d":-0.011},{"t":42.67,"d":-0.002},
{"t":43,"d":-0.008},{"t":43.33,"d":0.001},{"t":43.67,"d":-0.01},
{"t":44,"d":-0.004},{"t":44.33,"d":-0.012},{"t":44.67,"d":-0.006},
{"t":45,"d":-0.002},{"t":45.33,"d":-0.009},{"t":45.67,"d":0.013},
{"t":46,"d":-0.003},{"t":46.33,"d":0.002},{"t":46.67,"d":-0.007},
{"t":47,"d":0.003},{"t":47.33,"d":-0.004},{"t":47.67,"d":0.006},
{"t":48,"d":0},{"t":48.33,"d":0.008},{"t":48.67,"d":-0.003},
{"t":49,"d":0.005},{"t":49.33,"d":0.01},{"t":49.67,"d":0.023},
{"t":50,"d":0.012},{"t":50.33,"d":0.009},{"t":50.67,"d":0.017},
{"t":51,"d":0.021},{"t":51.33,"d":0.006},{"t":51.67,"d":0.011},
{"t":52,"d":0.003},{"t":52.33,"d":-0.006},{"t":52.67,"d":0.007},
{"t":53,"d":-0.019},{"t":53.33,"d":0.001},{"t":53.67,"d":-0.004},
{"t":54,"d":0.004},{"t":54.33,"d":-0.002},{"t":54.67,"d":0.008},
{"t":55,"d":0.002},{"t":55.33,"d":0.01},{"t":55.67,"d":-0.005},
{"t":56,"d":0.006},{"t":56.33,"d":0},{"t":56.67,"d":0.012},
{"t":57,"d":-0.012},{"t":57.33,"d":0.004},{"t":57.67,"d":-0.002},
{"t":58,"d":0.007},{"t":58.33,"d":0.001},{"t":58.67,"d":0.005},
{"t":59,"d":-0.004},{"t":59.33,"d":-0.014},{"t":59.67,"d":0.023},
{"t":60,"d":0.01},{"t":60.33,"d":0.014},{"t":60.67,"d":0.006},
{"t":61,"d":0.017},{"t":61.33,"d":0.008},{"t":61.67,"d":0.019},
{"t":62,"d":0.011},{"t":62.33,"d":0.004},{"t":62.67,"d":0.009},
{"t":63,"d":-0.012},{"t":63.33,"d":0.002},{"t":63.67,"d":-0.004},
{"t":64,"d":0.004},{"t":64.33,"d":-0.003},{"t":64.67,"d":0.006},
{"t":65,"d":0},{"t":65.33,"d":0.014},{"t":65.67,"d":0.002},
{"t":66,"d":-0.005},{"t":66.33,"d":0.005},{"t":66.67,"d":-0.002},
{"t":67,"d":0.003},{"t":67.33,"d":0.008},{"t":67.67,"d":-0.001},
{"t":68,"d":0.01},{"t":68.33,"d":0.004},{"t":68.67,"d":0.013},
{"t":69,"d":0.006},{"t":69.33,"d":0.002},{"t":69.67,"d":0.018},
{"t":70,"d":0.005},{"t":70.33,"d":-0.003},{"t":70.67,"d":0.008},
{"t":71,"d":-0.004},{"t":71.33,"d":0.002},{"t":71.67,"d":-0.008},
{"t":72,"d":0.003},{"t":72.33,"d":-0.002},{"t":72.67,"d":0.004},
{"t":73,"d":-0.005},{"t":73.33,"d":0.002},{"t":73.67,"d":-0.003},
{"t":74,"d":0.005},{"t":74.33,"d":-0.002},{"t":74.67,"d":0.001},
{"t":75,"d":-0.018},{"t":75.33,"d":-0.006},{"t":75.67,"d":-0.002},
{"t":76,"d":-0.008},{"t":76.33,"d":0.001},{"t":76.67,"d":-0.01},
{"t":77,"d":-0.004},{"t":77.33,"d":-0.011},{"t":77.67,"d":0},
{"t":78,"d":-0.007},{"t":78.33,"d":-0.002},{"t":78.67,"d":-0.009},
{"t":79,"d":-0.003},{"t":79.33,"d":-0.017},{"t":79.67,"d":0.002},
{"t":80,"d":0.005},{"t":80.33,"d":-0.003},{"t":80.67,"d":0.008},
{"t":81,"d":0.002},{"t":81.33,"d":0.01},{"t":81.67,"d":-0.002},
{"t":82,"d":0.006},{"t":82.33,"d":0.001},{"t":82.67,"d":0.013},
{"t":83,"d":0.004},{"t":83.33,"d":0.023},{"t":83.67,"d":0.009},
{"t":84,"d":0.002},{"t":84.33,"d":0.012},{"t":84.67,"d":-0.004},
{"t":85,"d":0.015},{"t":85.33,"d":0.006},{"t":85.67,"d":0.019},
{"t":86,"d":0.004},{"t":86.33,"d":0.01},{"t":86.67,"d":-0.003},
{"t":87,"d":0.008},{"t":87.33,"d":-0.009},{"t":87.67,"d":0.003},
{"t":88,"d":-0.017},{"t":88.33,"d":0.004},{"t":88.67,"d":-0.006},
{"t":89,"d":0.006},{"t":89.33,"d":0.012},{"t":89.67,"d":0.003},
{"t":90,"d":0.027},{"t":90.33,"d":0.008},{"t":90.67,"d":0.016},
{"t":91,"d":0.002},{"t":91.33,"d":-0.006},{"t":91.67,"d":0.01},
{"t":92,"d":0.015},{"t":92.33,"d":0.003},{"t":92.67,"d":0.017},
{"t":93,"d":-0.004},{"t":93.33,"d":0.006},{"t":93.67,"d":0.001},
{"t":94,"d":0.008},{"t":94.33,"d":-0.009},{"t":94.67,"d":0.005},
{"t":95,"d":0.012},{"t":95.33,"d":0.002},{"t":95.67,"d":0.009},
{"t":96,"d":-0.003},{"t":96.33,"d":0.006},{"t":96.67,"d":0},
{"t":97,"d":0.011},{"t":97.33,"d":0.004},{"t":97.67,"d":0.014},
{"t":98,"d":0.001},{"t":98.33,"d":0.007},{"t":98.67,"d":-0.006},
{"t":99,"d":0.005},{"t":99.33,"d":0.012},{"t":99.67,"d":0.002},
{"t":100,"d":0.009},{"t":100.33,"d":-0.003},{"t":100.67,"d":0.006},
{"t":101,"d":0.004},{"t":101.33,"d":0.023},{"t":101.67,"d":0.007},
{"t":102,"d":0.01},{"t":102.33,"d":0.003},{"t":102.67,"d":0.012},
{"t":103,"d":0.008},{"t":103.33,"d":0.014},{"t":103.67,"d":0.018},
{"t":104,"d":0.013},{"t":104.33,"d":0.025},{"t":104.67,"d":0.035},
{"t":105,"d":0.026},{"t":105.33,"d":0.015},{"t":105.67,"d":0.004},
{"t":106,"d":0.012},{"t":106.33,"d":-0.002},{"t":106.67,"d":0.007},
{"t":107,"d":-0.009},{"t":107.33,"d":0.004},{"t":107.67,"d":-0.005},
{"t":108,"d":0.013}
],
"dy": [
{"t":0.5,"d":-0.0055},{"t":1.5,"d":-0.006},{"t":2.5,"d":-0.005},{"t":3.5,"d":-0.0134},{"t":4.5,"d":-0.014},
{"t":5.5,"d":-0.004},{"t":6.5,"d":-0.0085},{"t":7.5,"d":-0.009},{"t":8.5,"d":-0.011},{"t":9.5,"d":-0.009},
{"t":10.5,"d":-0.0075},{"t":11.5,"d":-0.008},{"t":12.5,"d":-0.006},{"t":13.5,"d":-0.004},{"t":14.5,"d":-0.0097},
{"t":15.5,"d":-0.0099},{"t":16.5,"d":-0.008},{"t":17.5,"d":-0.007},{"t":18.5,"d":-0.008},{"t":19.5,"d":-0.009},
{"t":20.5,"d":-0.004},{"t":21.5,"d":-0.0067},{"t":22.5,"d":-0.0117},{"t":23.5,"d":-0.001},{"t":24.5,"d":0.0015},
{"t":25.5,"d":0},{"t":26.5,"d":-0.004},{"t":27.5,"d":-0.0037},{"t":28.5,"d":-0.0045},{"t":29.5,"d":-0.0035},
{"t":30.5,"d":-0.005},{"t":31.5,"d":-0.0037},{"t":32.5,"d":-0.0055},{"t":33.5,"d":-0.006},{"t":34.5,"d":-0.0065},
{"t":35.5,"d":-0.009},{"t":36.5,"d":-0.008},{"t":37.5,"d":-0.0087},{"t":38.5,"d":-0.0067},{"t":39.5,"d":-0.006},
{"t":40.5,"d":-0.0087},{"t":41.5,"d":-0.007},{"t":42.5,"d":-0.0075},{"t":43.5,"d":-0.0055},{"t":44.5,"d":-0.006},
{"t":45.5,"d":-0.0035},{"t":46.5,"d":-0.0055},{"t":47.5,"d":-0.0045},{"t":48.5,"d":0},{"t":49.5,"d":0.003},
{"t":50.5,"d":0.0114},{"t":51.5,"d":0.0037},{"t":52.5,"d":0.0015},{"t":53.5,"d":0.003},{"t":54.5,"d":0.0045},
{"t":55.5,"d":0.006},{"t":56.5,"d":0.0055},{"t":57.5,"d":0.004},{"t":58.5,"d":0.001},{"t":59.5,"d":0.004},
{"t":60.5,"d":0.011},{"t":61.5,"d":0.0115},{"t":62.5,"d":0.005},{"t":63.5,"d":0},{"t":64.5,"d":0.002},
{"t":65.5,"d":0.004},{"t":66.5,"d":0.003},{"t":67.5,"d":0.0005},{"t":68.5,"d":0.005},{"t":69.5,"d":0.005},
{"t":70.5,"d":0.0025},{"t":71.5,"d":-0.001},{"t":72.5,"d":0},{"t":73.5,"d":0.002},{"t":74.5,"d":0},
{"t":75.5,"d":-0.007},{"t":76.5,"d":-0.0005},{"t":77.5,"d":-0.0055},{"t":78.5,"d":-0.0005},{"t":79.5,"d":-0.003},
{"t":80.5,"d":0.003},{"t":81.5,"d":0.004},{"t":82.5,"d":0.0035},{"t":83.5,"d":0.0105},{"t":84.5,"d":0.0055},
{"t":85.5,"d":0.0085},{"t":86.5,"d":0.006},{"t":87.5,"d":-0.002},{"t":88.5,"d":0.001},{"t":89.5,"d":0.0102},
{"t":90.5,"d":0.0105},{"t":91.5,"d":0.0027},{"t":92.5,"d":0.0115},{"t":93.5,"d":0.0015},{"t":94.5,"d":0.004},
{"t":95.5,"d":0.0055},{"t":96.5,"d":0.002},{"t":97.5,"d":0.0075},{"t":98.5,"d":0.0027},{"t":99.5,"d":0.002},
{"t":100.5,"d":0.0057},{"t":101.5,"d":0.002},{"t":102.5,"d":0.007},{"t":103.5,"d":0.0085},{"t":104.5,"d":0.019},
{"t":105.5,"d":0.017},{"t":106.5,"d":0.005},{"t":107.5,"d":0.002}
],
"lim": [{"lim": 0.02}, {"lim": -0.02}]
},
"vconcat": [
{
  "width": 987, "height": 355,
  "title": {"text": ["GreenBay Water Level", "2020-07-10 - 2020-10-27", "6-min Avg Diff = -0.001, STD = 0.009, RMS = 0.009 m"], "lineHeight": 26.5, "offset": 8},
  "data": {"name": "wl"},
  "encoding": {
    "x": {"field": "t", "type": "quantitative", "scale": {"domain": [0.45, 108.05], "nice": false, "zero": false}, "axis": {"values": [5, 22, 36, 53, 67, 83, 97], "labels": false, "title": null}}
  },
  "layer": [
    {"mark": {"type": "line", "strokeWidth": 1.1},
     "encoding": {
       "y": {"field": "p", "type": "quantitative", "scale": {"domain": [176.76, 177.905], "nice": false, "zero": false}, "axis": {"values": [176.8, 177.0, 177.2, 177.4, 177.6, 177.8], "format": ".1f", "title": "Height Above STND (m)"}},
       "color": {"datum": "6-Min Primary", "type": "nominal", "scale": {"domain": ["6-Min Primary", "6-Min MWWL"], "range": ["#5b9bd5", "#ff0000"]},
         "legend": {"orient": "bottom-left", "offset": 10, "title": null, "fillColor": "white", "strokeColor": "#cccccc", "padding": 3, "cornerRadius": 4, "labelFontSize": 17, "labelColor": "black", "symbolType": "stroke", "symbolSize": 1444, "symbolStrokeWidth": 1.5, "rowPadding": 1, "labelOffset": 16}}
     }},
    {"mark": {"type": "line", "strokeWidth": 1.1},
     "encoding": {
       "y": {"field": "m", "type": "quantitative", "title": "Height Above STND (m)"},
       "color": {"datum": "6-Min MWWL", "type": "nominal"}
     }}
  ]
},
{
  "width": 987, "height": 107,
  "title": {"text": "6-Min Primary - MWWL", "offset": 5},
  "encoding": {
    "x": {"field": "t", "type": "quantitative", "scale": {"domain": [0.45, 108.05], "nice": false, "zero": false}, "axis": {"values": [5, 22, 36, 53, 67, 83, 97], "labels": false, "title": null}}
  },
  "layer": [
    {"data": {"name": "d6"}, "mark": {"type": "line", "color": "black", "strokeWidth": 2.4},
     "encoding": {"y": {"field": "d", "type": "quantitative", "scale": {"domain": [-0.04, 0.04], "nice": false}, "axis": {"values": [-0.025, 0, 0.025], "format": ".3f", "labelExpr": "replace(datum.label, '-', '−')", "title": "Δm"}}}},
    {"data": {"name": "lim"}, "mark": {"type": "rule", "color": "#2ca02c", "strokeWidth": 3, "strokeDash": [11, 5]},
     "encoding": {"y": {"field": "lim", "type": "quantitative"}, "x": null}}
  ]
},
{
  "width": 987, "height": 107,
  "title": {"text": "Hourly Primary - MWWL", "offset": 5},
  "encoding": {
    "x": {"field": "t", "type": "quantitative", "scale": {"domain": [0.45, 108.05], "nice": false, "zero": false}, "axis": {"values": [5, 22, 36, 53, 67, 83, 97], "labels": false, "title": null}}
  },
  "layer": [
    {"data": {"name": "hr"}, "mark": {"type": "line", "color": "black", "strokeWidth": 1.4},
     "encoding": {"y": {"field": "d", "type": "quantitative", "scale": {"domain": [-0.04, 0.04], "nice": false}, "axis": {"values": [-0.025, 0, 0.025], "format": ".3f", "labelExpr": "replace(datum.label, '-', '−')", "title": "Δm"}}}},
    {"data": {"name": "lim"}, "mark": {"type": "rule", "color": "#2ca02c", "strokeWidth": 3, "strokeDash": [11, 5]},
     "encoding": {"y": {"field": "lim", "type": "quantitative"}, "x": null}}
  ]
},
{
  "width": 987, "height": 108,
  "title": {"text": "Daily Primary - MWWL", "offset": 5},
  "encoding": {
    "x": {"field": "t", "type": "quantitative", "scale": {"domain": [0.45, 108.05], "nice": false, "zero": false}, "axis": {"values": [5, 22, 36, 53, 67, 83, 97], "labelExpr": "timeFormat(datetime(2020, 6, 10 + datum.value), '%Y-%m-%d')", "title": null}}
  },
  "layer": [
    {"data": {"name": "dy"}, "mark": {"type": "line", "color": "black", "strokeWidth": 2.3},
     "encoding": {"y": {"field": "d", "type": "quantitative", "scale": {"domain": [-0.04, 0.04], "nice": false}, "axis": {"values": [-0.025, 0, 0.025], "format": ".3f", "labelExpr": "replace(datum.label, '-', '−')", "title": "Δm"}}}},
    {"data": {"name": "lim"}, "mark": {"type": "rule", "color": "#2ca02c", "strokeWidth": 3, "strokeDash": [11, 5]},
     "encoding": {"y": {"field": "lim", "type": "quantitative"}, "x": null}}
  ]
}
]
}
